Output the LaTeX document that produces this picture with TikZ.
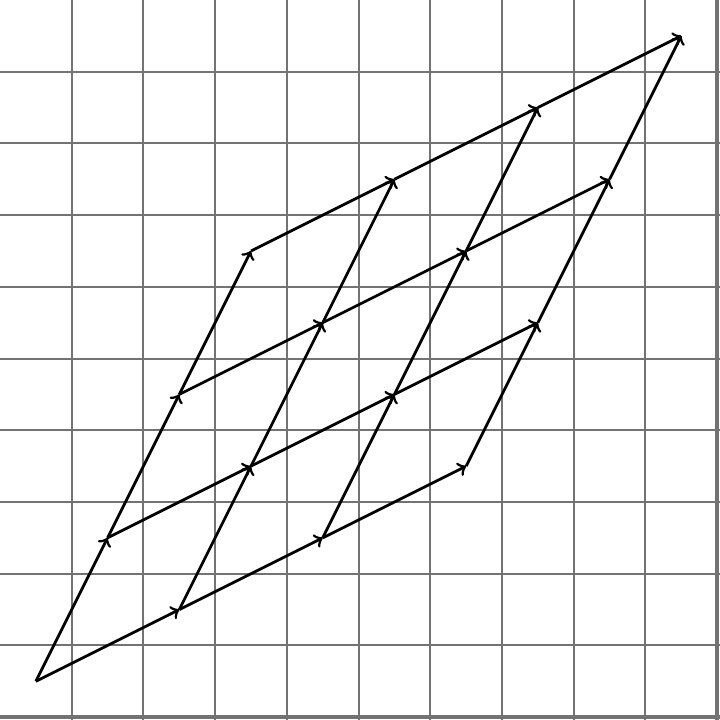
\documentclass[tikz,border=0pt]{standalone}
\usepackage{tikz}
\usetikzlibrary{positioning,calc}

\begin{document}
\begin{tikzpicture}[x=1cm,y=1cm,
    gridline/.style={gray!90!black, line width=0.8pt},
    vec/.style={->, black, line width=1.1pt}]
                    \useasboundingbox (0,-0.04) rectangle (10.04,10);
                    % 网格
                    \foreach \k in {1,...,10}
                        \draw[gridline] (\k,-0.04) -- (\k,10);
                    \foreach \k in {0,...,9}
                        \draw[gridline] (0,\k) -- (10.04,\k);
                    \draw[gridline, line width=1.4pt] (0,0) -- (10.04,0);
                    \draw[gridline, line width=1.4pt] (10,-0.04) -- (10,10);

                    % 格点: 原点 (0.5,0.5), 基向量 u=(2,1), v=(1,2)
                    \foreach \i in {0,...,3}
                        \foreach \j in {0,...,3}
                            \coordinate (p-\i-\j) at ({0.5+2*\i+\j},{0.5+\i+2*\j});

                    % 沿 u 方向的向量
                    \foreach \j in {0,...,3}
                        \foreach \i in {0,...,2}{
                            \pgfmathtruncatemacro{\nxt}{\i+1}
                            \draw[vec] (p-\i-\j) -- (p-\nxt-\j);
                        }
                    % 沿 v 方向的向量
                    \foreach \i in {0,...,3}
                        \foreach \j in {0,...,2}{
                            \pgfmathtruncatemacro{\nxt}{\j+1}
                            \draw[vec] (p-\i-\j) -- (p-\i-\nxt);
                        }
\end{tikzpicture}
\end{document}
